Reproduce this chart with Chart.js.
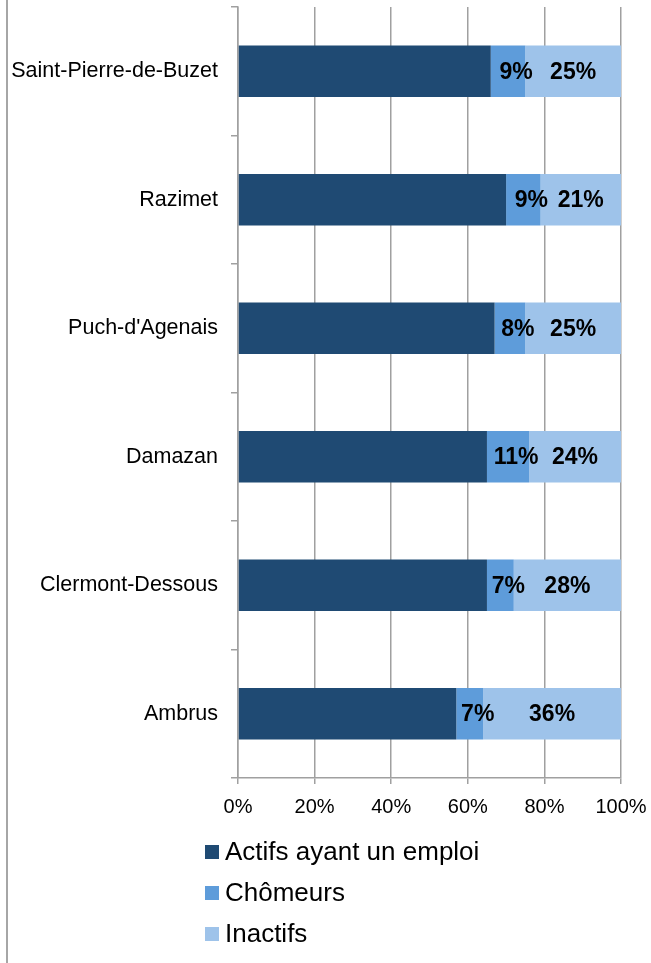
<!DOCTYPE html>
<html>
<head>
<meta charset="utf-8">
<script src="https://cdn.jsdelivr.net/npm/chart.js@4"></script>
<style>
  body { margin: 0; background: #fff; font-family: "Liberation Sans", Arial, sans-serif; }
  #wrap { position: relative; width: 651px; height: 963px; }
  #frame { position: absolute; left: 6px; top: 0; width: 2px; height: 963px; background: #a6a6a6; }
  #chart { position: absolute; left: 0; top: 0; }
  #legend { position: absolute; left: 205px; top: 831px; }
  .item { display: flex; align-items: center; height: 41px; font-size: 26px; color: #000; }
  .box { width: 14px; height: 14px; margin-right: 6px; }
</style>
</head>
<body>
<div id="wrap">
  <div id="frame"></div>
  <canvas id="chart" width="651" height="832"></canvas>
  <div id="legend"></div>
</div>
<script>
const communes = ["Saint-Pierre-de-Buzet", "Razimet", "Puch-d'Agenais", "Damazan", "Clermont-Dessous", "Ambrus"];
const actifs = [66, 70, 67, 65, 65, 57];
const chomeurs = [9, 9, 8, 11, 7, 7];
const inactifs = [25, 21, 25, 24, 28, 36];
const xTicks = [0, 20, 40, 60, 80, 100];
const seriesNames = ["Actifs ayant un emploi", "Chômeurs", "Inactifs"];
const colors = ["#1F4A73", "#5E9CDA", "#9EC3EA"];

const gridColor = "#a0a0a0";

// value labels on the two lighter segments
const barLabels = {
  id: "barLabels",
  afterDatasetsDraw(chart) {
    const ctx = chart.ctx;
    ctx.save();
    ctx.font = "bold 23px 'Liberation Sans', Arial, sans-serif";
    ctx.fillStyle = "#000";
    ctx.textAlign = "center";
    ctx.textBaseline = "middle";
    [1, 2].forEach(di => {
      const meta = chart.getDatasetMeta(di);
      meta.data.forEach((bar, i) => {
        const v = chart.data.datasets[di].data[i];
        const shift = di === 1 ? 8 : 0;
        const cx = (bar.x + bar.base) / 2 + shift;
        ctx.fillText(v + "%", cx, bar.y + 1);
      });
    });
    ctx.restore();
  }
};

new Chart(document.getElementById("chart"), {
  type: "bar",
  data: {
    labels: communes,
    datasets: [actifs, chomeurs, inactifs].map((d, i) => ({
      label: seriesNames[i],
      data: d,
      backgroundColor: colors[i],
      categoryPercentage: 1,
      barPercentage: 0.4
    }))
  },
  options: {
    indexAxis: "y",
    responsive: false,
    animation: false,
    layout: { padding: { left: 0, right: 30, top: 7, bottom: 0 } },
    plugins: { legend: { display: false }, tooltip: { enabled: false } },
    scales: {
      x: {
        stacked: true,
        min: 0,
        max: 100,
        afterBuildTicks: s => { s.ticks = xTicks.map(v => ({ value: v })); },
        ticks: {
          callback: v => v + "%",
          color: "#000",
          font: { family: "'Liberation Sans', Arial, sans-serif", size: 20 },
          padding: 11
        },
        grid: { color: gridColor, lineWidth: 1.5, tickLength: 6 },
        border: { color: gridColor, width: 1.5 },
        afterFit: s => { s.height = 54; s.paddingLeft = 0; s.paddingRight = 0; }
      },
      y: {
        stacked: true,
        ticks: {
          color: "#000",
          font: { family: "'Liberation Sans', Arial, sans-serif", size: 21.5 },
          padding: 13
        },
        grid: { drawOnChartArea: false, color: gridColor, lineWidth: 1.5, tickLength: 7, offset: true },
        border: { color: gridColor, width: 1.5 },
        afterFit: s => { s.width = 238; s.paddingTop = 0; s.paddingBottom = 0; }
      }
    }
  },
  plugins: [barLabels]
});

const legend = document.getElementById("legend");
seriesNames.forEach((name, i) => {
  const row = document.createElement("div");
  row.className = "item";
  const box = document.createElement("span");
  box.className = "box";
  box.style.background = colors[i];
  const txt = document.createElement("span");
  txt.textContent = name;
  row.appendChild(box);
  row.appendChild(txt);
  legend.appendChild(row);
});
</script>
</body>
</html>
